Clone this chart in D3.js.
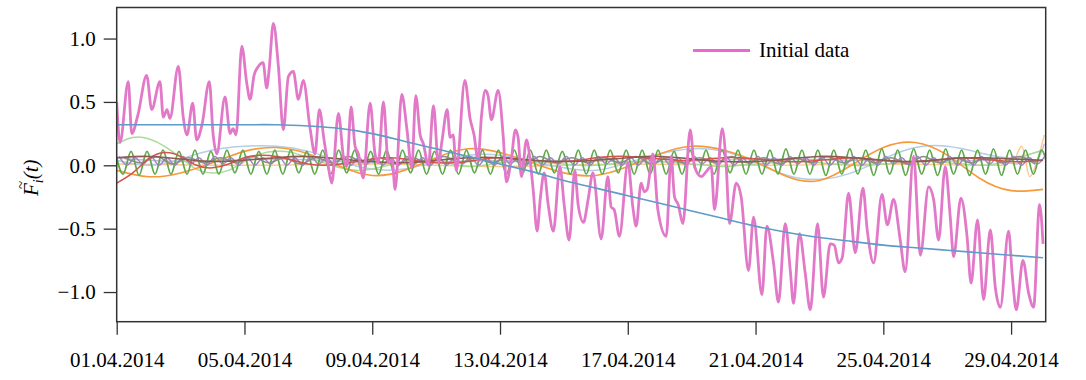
<!DOCTYPE html>
<html>
<head>
<meta charset="utf-8">
<script src="https://cdn.jsdelivr.net/npm/d3@7/dist/d3.min.js"></script>
<style>
  body { margin: 0; background: #fff; }
  .axis line { stroke: #333; stroke-width: 1.3px; }
</style>
</head>
<body>
<div id="chart"></div>
<script>
// hours since 01.04.2014 00:00, value
const initialData = [
  [0,0.50],[2.5,0.18],[8.7,0.66],[11.3,0.25],[16,0.40],[22.5,0.71],[26.3,0.44],[32.5,0.66],[35,0.38],[37.8,0.44],
  [40,0.37],[46.3,0.78],[50,0.38],[52.8,0.24],[57.1,0.49],[60.1,0.20],[64.1,0.32],[69.6,0.66],[72.4,0.25],[75.2,0.09],
  [81.4,0.54],[85.2,0.25],[87.4,0.29],[89.7,0.24],[94,0.94],[97.7,0.65],[100.2,0.52],[103.2,0.71],[106.4,0.78],[110,0.81],
  [112.7,0.61],[114.5,0.75],[117.7,1.12],[121.5,0.78],[125.2,0.28],[129,0.70],[132.7,0.74],[136.5,0.52],[140.2,0.67],[145.3,0.29],
  [149,0.09],[152.3,0.44],[155.8,0.20],[159,-0.01],[161.6,-0.14],[166.6,0.41],[170.3,0.07],[172.9,-0.01],[176.1,0.46],[179.1,0.15],
  [181.6,0.09],[185.3,-0.10],[190.4,0.49],[194.1,0.09],[196.6,0.02],[200.4,0.50],[204.1,0.02],[206.9,0.04],[209.2,-0.19],[214.2,0.56],
  [218,0.29],[221.7,-0.02],[224.7,0.55],[228,0.24],[230.4,0.17],[234.2,0.00],[238,0.47],[241.7,0.02],[244.5,0.20],[248.3,0.44],
  [250.5,0.22],[252.8,0.24],[255.2,-0.04],[261.6,0.67],[265.5,0.37],[268.5,0.24],[271.5,0.04],[274,0.38],[277,0.59],[279,0.55],
  [281.5,0.36],[286.6,0.59],[290.4,0.23],[292.8,-0.13],[296.4,0.04],[299.6,0.28],[301.6,0.22],[304.1,-0.09],[307.9,0.20],[310.6,0.04],
  [312.9,-0.19],[315.9,-0.52],[318.2,-0.27],[321.2,-0.06],[324.2,-0.31],[328.1,-0.52],[333,-0.01],[336.2,-0.31],[339.9,-0.59],[344.2,-0.04],
  [346.7,-0.31],[350.7,-0.45],[354.2,-0.27],[357.8,-0.06],[364,-0.58],[369,-0.09],[371.5,-0.33],[373.8,-0.35],[377.7,-0.56],[384.1,0.02],
  [387.8,-0.33],[390.3,-0.48],[394,-0.14],[396.5,-0.21],[398.6,-0.19],[402.9,0.09],[406.6,-0.35],[412.9,-0.56],[416.6,0.07],[419.1,-0.25],
  [421.9,-0.31],[425.4,-0.46],[430.9,0.28],[434.1,-0.01],[439.2,-0.09],[442.9,-0.05],[446.7,-0.01],[449.2,-0.35],[455,0.29],[458,-0.01],
  [460.4,-0.46],[465.5,-0.14],[469.2,-0.25],[474.7,-0.83],[478.5,-0.41],[484.8,-1.02],[488.5,-0.48],[493.5,-0.77],[497.2,-1.08],[502.3,-0.46],
  [506.1,-0.83],[508.5,-1.09],[513,-0.54],[517.3,-0.85],[521.1,-1.14],[526.6,-0.46],[531,-1.04],[536.1,-0.62],[539.1,-0.63],[542.4,-0.77],
  [545.1,-0.73],[549.9,-0.22],[554.9,-0.69],[560.7,-0.18],[563.9,-0.51],[568.7,-0.77],[575,-0.23],[579,-0.47],[583.7,-0.27],[588.7,-0.59],
  [592.4,-0.84],[598.7,0.07],[603.8,-0.71],[610,-0.17],[613.8,-0.27],[617.5,-0.59],[622.5,-0.01],[626.3,-0.41],[628.8,-0.72],[634.3,-0.26],
  [638.9,-0.56],[641.9,-0.93],[646.8,-0.43],[651.3,-1.06],[656.4,-0.51],[660.1,-0.96],[663.9,-1.12],[670.1,-0.52],[672.9,-0.87],[675.9,-1.14],
  [680.9,-0.75],[685.2,-1.01],[688.9,-1.12],[693.4,-0.31],[696,-0.62]
];

// daily values, 01.04 .. 30.04
const trendValues = [0.32,0.32,0.32,0.32,0.32,0.32,0.31,0.29,0.25,0.19,0.13,0.07,0.01,-0.05,-0.12,
  -0.18,-0.24,-0.30,-0.36,-0.42,-0.48,-0.53,-0.57,-0.60,-0.63,-0.65,-0.67,-0.69,-0.71,-0.73];
const orangeValues = [-0.04,-0.09,-0.06,0.02,0.11,0.14,0.09,-0.01,-0.08,-0.04,0.06,0.13,0.10,0.02,-0.06,
  -0.08,-0.01,0.09,0.15,0.12,0.03,-0.09,-0.12,0.00,0.14,0.18,0.08,-0.10,-0.20,-0.19];
const lightBlueValues = [0.04,0.00,0.05,0.12,0.15,0.15,0.11,0.03,-0.03,-0.03,0.03,0.08,0.08,0.03,-0.02,
  -0.04,0.02,0.09,0.13,0.11,0.02,-0.08,-0.11,-0.06,0.05,0.14,0.15,0.10,0.06,0.12];
const brownValues = [0.06,0.07,0.05,0.03,0.04,0.06,0.07,0.05,0.03,0.02,0.04,0.06,0.06,0.04,0.03,
  0.04,0.06,0.07,0.05,0.03,0.03,0.05,0.07,0.06,0.04,0.03,0.05,0.06,0.05,0.04];

// half-day values
const lightGreenValues = [0.17,0.22,0.21,0.15,0.06,-0.03,-0.06,-0.04,0.03,0.09,0.11,0.10,0.06,0.02,-0.02,
  -0.04,-0.03,0.00,0.03,0.04,0.03,0.01,-0.01,0.00,0.02,0.03,0.03,0.02,0.01,0.00,
  0.00,0.01,0.02,0.03,0.03,0.02,0.01,0.00,-0.01,0.00,0.01,0.02,0.03,0.03,0.02,
  0.01,0.00,0.00,0.01,0.02,0.03,0.03,0.02,0.01,0.00,0.01,0.04,0.08,0.12];
const redValues = [-0.14,-0.06,0.05,0.10,0.07,0.00,-0.02,0.01,0.06,0.08,0.07,0.04,0.01,0.00,0.01,
  0.03,0.05,0.06,0.05,0.03,0.02,0.02,0.03,0.05,0.06,0.05,0.04,0.03,0.03,0.04,
  0.06,0.07,0.07,0.06,0.05,0.04,0.04,0.05,0.06,0.06,0.05,0.04,0.03,0.03,0.04,
  0.05,0.06,0.05,0.04,0.03,0.03,0.04,0.05,0.06,0.05,0.04,0.03,0.03,0.04];
// from 06:00, every 12 h
const grayValues = [0.06,0.02,0.07,0.01,0.06,0.02,0.06,0.02,0.07,0.02,
  0.06,0.01,0.06,0.02,0.07,0.02,0.06,0.01,0.06,0.02,
  0.07,0.02,0.06,0.02,0.06,0.01,0.07,0.02,0.06,0.02,
  0.06,0.02,0.07,0.01,0.06,0.02,0.06,0.02,0.07,0.02,
  0.06,0.01,0.06,0.02,0.07,0.02,0.06,0.02,0.06,0.01,
  0.07,0.02,0.06,0.02,0.06,0.02,0.07,0.01];

// semi-diurnal components, extremes every 6 h
const greenValues = [
  0.11,-0.07,0.11,-0.08,0.11,-0.07,0.12,-0.07,0.11,-0.07,
  0.12,-0.07,0.11,-0.07,0.12,-0.06,0.12,-0.07,0.11,-0.07,
  0.12,-0.07,0.12,-0.06,0.11,-0.07,0.12,-0.07,0.12,-0.06,
  0.12,-0.07,0.11,-0.07,0.12,-0.07,0.12,-0.06,0.12,-0.07,
  0.11,-0.07,0.12,-0.07,0.12,-0.06,0.12,-0.07,0.12,-0.07,
  0.12,-0.07,0.12,-0.07,0.12,-0.06,0.11,-0.07,0.12,-0.07,
  0.12,-0.07,0.12,-0.06,0.12,-0.07,0.12,-0.07,0.12,-0.07,
  0.11,-0.07,0.12,-0.07,0.12,-0.07,0.12,-0.06,0.12,-0.07,
  0.12,-0.07,0.12,-0.07,0.13,-0.07,0.12,-0.07,0.12,-0.08,
  0.12,-0.07,0.13,-0.07,0.12,-0.08,0.13,-0.07,0.12,-0.08,
  0.13,-0.07,0.12,-0.08,0.13,-0.07,0.12,-0.08,0.12,-0.07,
  0.13,-0.08,0.12,-0.07,0.12,-0.07,0.12,-0.08
];
const purpleValues = [
  0.07,0.00,0.06,0.01,0.07,0.00,0.06,0.00,0.07,0.01,
  0.06,0.00,0.07,0.01,0.06,0.00,0.07,0.00,0.06,0.01,
  0.07,0.00,0.06,0.00,0.07,0.01,0.06,0.00,0.07,0.00,
  0.06,0.01,0.07,0.00,0.06,0.00,0.07,0.01,0.06,0.00,
  0.07,0.00,0.06,0.01,0.07,0.00,0.06,0.00,0.07,0.01,
  0.06,0.00,0.07,0.00,0.06,0.01,0.07,0.00,0.06,0.00,
  0.07,0.01,0.06,0.00,0.07,0.00,0.06,0.01,0.07,0.00,
  0.06,0.00,0.07,0.01,0.06,0.00,0.07,0.00,0.06,0.01,
  0.07,0.00,0.06,0.00,0.07,0.01,0.06,0.00,0.07,0.00,
  0.06,0.01,0.07,0.00,0.06,0.00,0.07,0.01,0.06,0.00,
  0.07,0.00,0.06,0.01,0.07,0.00,0.06,0.00,0.07,0.01,
  0.06,0.00,0.07,0.00,0.06,0.01,0.08
];

// end effects of the small components (hours, value)
const lightOrangeData = [[0,0.01],[96,0.00],[192,0.01],[288,-0.01],[384,0.01],[480,0.00],[576,0.01],
  [664,0.00],[674,0.04],[680,0.15],[686,-0.09],[692,0.05],[697,0.24]];
const lightPurpleData = [[0,0.06],[48,0.03],[120,0.05],[200,0.02],[300,0.04],[400,0.03],[500,0.05],
  [600,0.03],[660,0.04],[676,0.01],[684,0.06],[690,0.03],[697,0.17]];

const tickDays = ['2014-04-01','2014-04-05','2014-04-09','2014-04-13','2014-04-17','2014-04-21','2014-04-25','2014-04-29'];
const yTicks = [-1.0, -0.5, 0.0, 0.5, 1.0];
const legendLabel = 'Initial data';

const W = 1086, H = 380;
const FONT = '"Liberation Serif"';
const box = { left: 116.7, right: 1045.7, top: 7.5, bottom: 321.7 };
const t0 = Date.UTC(2014, 3, 1);
const hour = 3600 * 1000;
const toDate = h => new Date(t0 + h * hour);
const even = (values, start, step) => values.map((v, i) => [start + i * step, v]);

const svg = d3.select('#chart').append('svg')
  .attr('width', W)
  .attr('height', H)
  .attr('font-family', FONT);

const x = d3.scaleUtc()
  .domain([toDate(0), toDate(698)])
  .range([box.left, box.right]);
const y = d3.scaleLinear()
  .domain([-1.234, 1.245])
  .range([box.bottom, box.top]);

svg.append('clipPath').attr('id', 'plot-clip')
  .append('rect')
  .attr('x', box.left).attr('y', box.top)
  .attr('width', box.right - box.left).attr('height', box.bottom - box.top);

const plot = svg.append('g').attr('clip-path', 'url(#plot-clip)');

const line = curve => d3.line()
  .x(d => x(toDate(d[0])))
  .y(d => y(d[1]))
  .curve(curve);

const components = [
  { data: lightOrangeData, color: '#ffc58a', width: 1.4, curve: d3.curveMonotoneX },
  { data: lightPurpleData, color: '#c9b8de', width: 1.4, curve: d3.curveMonotoneX },
  { data: even(lightBlueValues, 0, 24), color: '#b3cdea', width: 1.5, curve: d3.curveNatural },
  { data: even(lightGreenValues, 0, 12), color: '#a8dc9a', width: 1.5, curve: d3.curveNatural },
  { data: even(orangeValues, 0, 24), color: '#f79a3a', width: 1.6, curve: d3.curveNatural },
  { data: even(greenValues, -1.2, 6), color: '#5fa94b', width: 1.8, curve: d3.curveMonotoneX },
  { data: even(purpleValues, 1.8, 6), color: '#9d85c6', width: 1.4, curve: d3.curveMonotoneX },
  { data: even(grayValues, 6, 12), color: '#8c8c8c', width: 1.6, curve: d3.curveMonotoneX },
  { data: even(redValues, 0, 12), color: '#d4534c', width: 1.5, curve: d3.curveNatural },
  { data: even(brownValues, 0, 24), color: '#8d5b52', width: 1.6, curve: d3.curveNatural }
];

components.forEach(c => {
  plot.append('path')
    .datum(c.data)
    .attr('fill', 'none')
    .attr('stroke', c.color)
    .attr('stroke-width', c.width)
    .attr('d', line(c.curve));
});

plot.append('path')
  .datum(initialData)
  .attr('fill', 'none')
  .attr('stroke', '#e279c8')
  .attr('stroke-width', 2.8)
  .attr('stroke-linejoin', 'round')
  .attr('d', line(d3.curveMonotoneX));

plot.append('path')
  .datum(even(trendValues, 0, 24))
  .attr('fill', 'none')
  .attr('stroke', '#5f9bc8')
  .attr('stroke-width', 1.6)
  .attr('d', line(d3.curveNatural));

// axes
svg.append('g')
  .attr('class', 'axis')
  .attr('transform', 'translate(' + box.left + ',0)')
  .call(d3.axisLeft(y).tickValues(yTicks).tickFormat(d3.format('.1f')).tickSize(13).tickPadding(8))
  .call(g => g.select('.domain').remove())
  .call(g => g.selectAll('text').attr('fill', '#000').attr('font-family', FONT).attr('font-size', 21));

svg.append('g')
  .attr('class', 'axis')
  .attr('transform', 'translate(0,' + box.bottom + ')')
  .call(d3.axisBottom(x)
    .tickValues(tickDays.map(s => new Date(s + 'T00:00:00Z')))
    .tickFormat(d3.utcFormat('%d.%m.%Y'))
    .tickSize(13).tickPadding(17))
  .call(g => g.select('.domain').remove())
  .call(g => g.selectAll('text').attr('fill', '#000').attr('font-family', FONT).attr('font-size', 21));

svg.append('rect')
  .attr('x', box.left).attr('y', box.top)
  .attr('width', box.right - box.left).attr('height', box.bottom - box.top)
  .attr('fill', 'none')
  .attr('stroke', '#333')
  .attr('stroke-width', 1.5);

// y label: F~_i(t)
const ylab = svg.append('g').attr('transform', 'translate(38,177) rotate(-90)');
const yt = ylab.append('text')
  .attr('x', -19).attr('y', 0)
  .attr('font-family', FONT)
  .attr('font-size', 21)
  .attr('font-style', 'italic');
yt.append('tspan').text('F');
yt.append('tspan').attr('dy', 5).attr('font-size', 14).text('i');
yt.append('tspan').attr('dy', -5).text('(t)');
ylab.append('text')
  .attr('x', -12).attr('y', -12)
  .attr('font-family', FONT)
  .attr('font-size', 15)
  .text('~');

// legend
svg.append('line')
  .attr('x1', 693).attr('x2', 750)
  .attr('y1', 50.5).attr('y2', 50.5)
  .attr('stroke', '#ee66d0')
  .attr('stroke-width', 3);
svg.append('text')
  .attr('x', 759).attr('y', 57)
  .attr('font-family', FONT)
  .attr('font-size', 21)
  .text(legendLabel);
</script>
</body>
</html>
